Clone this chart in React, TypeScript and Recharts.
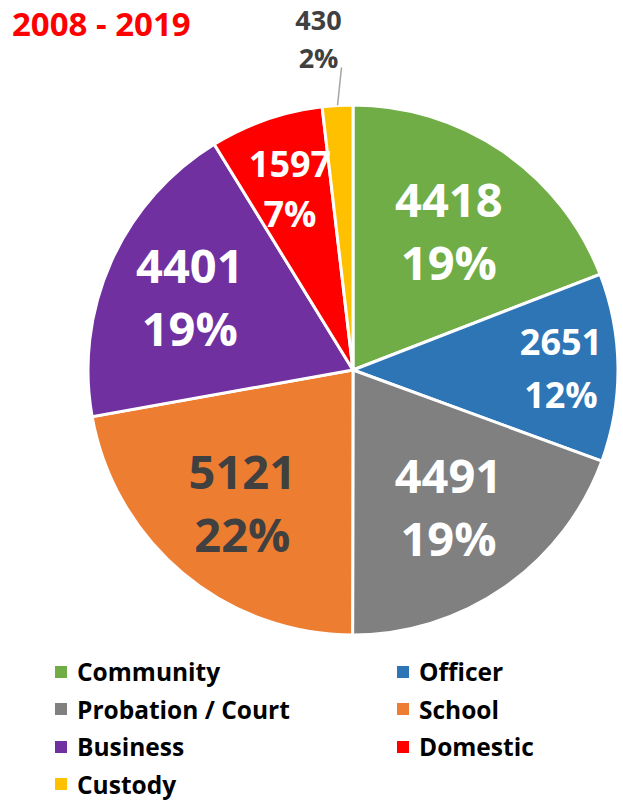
import React from "react";
import { PieChart, Pie, Cell, Legend } from "recharts";

const categories = ["Community", "Officer", "Probation / Court", "School", "Business", "Domestic", "Custody"];
const values = [4418, 2651, 4491, 5121, 4401, 1597, 430];
const percentLabels = ["19%", "12%", "19%", "22%", "19%", "7%", "2%"];
const colors = ["#70AD47", "#2E75B6", "#808080", "#ED7D31", "#7030A0", "#FF0000", "#FFC000"];
const title = "2008 - 2019";

const data = categories.map((name, i) => ({ name, value: values[i], pct: percentLabels[i] }));

const FONT = "'Open Sans', 'Liberation Sans', sans-serif";
const RAD = Math.PI / 180;

// label radius factors and font sizes (styling only)
const labelRadius = [0.64, 0.785, 0.63, 0.65, 0.675, 0.725, 0];
const labelFont = [47, 36, 47, 47, 47, 36, 27];
const labelGap = [63, 53, 63, 63, 63, 50, 38];
const labelColor = ["#fff", "#fff", "#fff", "#404040", "#fff", "#fff", "#404040"];

const renderLabel = (props: any) => {
  const { cx, cy, midAngle, outerRadius, index, value } = props;
  const pct = percentLabels[index];
  if (index === 6) {
    const ex = cx + outerRadius * Math.cos(-midAngle * RAD);
    const ey = cy + outerRadius * Math.sin(-midAngle * RAD);
    const lx = ex + 4;
    const ly = ey - 38;
    const tx = ex - 19;
    return (
      <g>
        <line x1={ex} y1={ey} x2={lx} y2={ly} stroke="#A6A6A6" strokeWidth={1.5} />
        <text x={tx} y={ey - 86} fill={labelColor[index]} fontSize={labelFont[index]} fontWeight={700} fontFamily={FONT} textAnchor="middle" dominantBaseline="central">{value}</text>
        <text x={tx} y={ey - 48} fill={labelColor[index]} fontSize={labelFont[index]} fontWeight={700} fontFamily={FONT} textAnchor="middle" dominantBaseline="central">{pct}</text>
      </g>
    );
  }
  const r = outerRadius * labelRadius[index];
  const x = cx + r * Math.cos(-midAngle * RAD);
  const y = cy + r * Math.sin(-midAngle * RAD);
  const g = labelGap[index] / 2;
  return (
    <g>
      <text x={x} y={y - g} fill={labelColor[index]} fontSize={labelFont[index]} fontWeight={700} fontFamily={FONT} textAnchor="middle" dominantBaseline="central">{value}</text>
      <text x={x} y={y + g} fill={labelColor[index]} fontSize={labelFont[index]} fontWeight={700} fontFamily={FONT} textAnchor="middle" dominantBaseline="central">{pct}</text>
    </g>
  );
};

const renderLegend = () => {
  return (
    <div style={{ display: "grid", gridTemplateColumns: "342px 220px", rowGap: 0, fontFamily: FONT }}>
      {categories.map((name, i) => (
        <div key={name} style={{ display: "flex", alignItems: "center", height: 37.5, whiteSpace: "nowrap" }}>
          <span style={{ display: "inline-block", width: 12, height: 12, background: colors[i], marginRight: 10, flex: "none" }} />
          <span style={{ fontSize: 24.5, fontWeight: 700, color: "#000", lineHeight: "37px" }}>{name}</span>
        </div>
      ))}
    </div>
  );
};

export default function App() {
  return (
    <div style={{ position: "absolute", left: 0, top: 0, width: 623, height: 800, background: "#fff" }}>
      <div style={{ position: "absolute", left: 12, top: 2, fontFamily: FONT, fontWeight: 700, fontSize: 33, color: "#FF0000", lineHeight: "44px" }}>{title}</div>
      <PieChart width={623} height={800} margin={{ top: 0, right: 0, bottom: 0, left: 0 }}>
        <Pie
          data={data}
          dataKey="value"
          nameKey="name"
          cx={353}
          cy={370}
          outerRadius={265}
          startAngle={90}
          endAngle={-270}
          stroke="#fff"
          strokeWidth={3}
          label={renderLabel}
          labelLine={false}
          isAnimationActive={false}
        >
          {data.map((d, i) => (
            <Cell key={d.name} fill={colors[i]} />
          ))}
        </Pie>
        <Legend content={renderLegend} wrapperStyle={{ left: 55, top: 653, width: 560, bottom: "auto" }} />
      </PieChart>
    </div>
  );
}
